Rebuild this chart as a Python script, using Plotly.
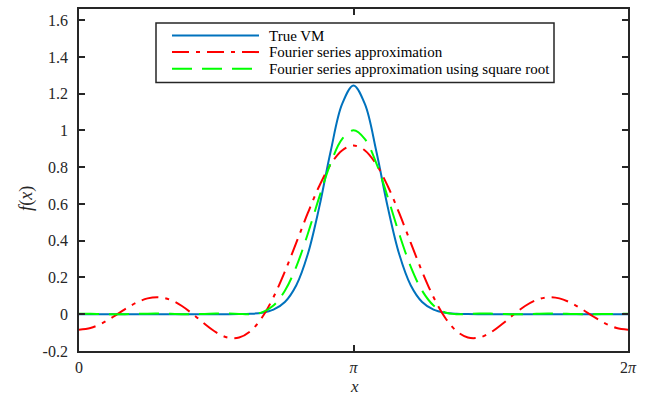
import numpy as np
import plotly.graph_objects as go

# x grid: 0 .. 2*pi in steps of pi/24
x_vals = np.linspace(0, 2 * np.pi, 49)

true_vm = [0.0, 0.0, 0.0, 0.0, 0.0, 0.0, 0.0, 0.0, 0.0, 0.0, 0.0, 0.00002,
           0.00006, 0.00021, 0.00075, 0.0026, 0.0084, 0.0249, 0.0665, 0.1576,
           0.3261, 0.5816, 0.8855, 1.1429, 1.2450,
           1.1429, 0.8855, 0.5816, 0.3261, 0.1576, 0.0665, 0.0249, 0.0084,
           0.0026, 0.00075, 0.00021, 0.00006, 0.00002, 0.0, 0.0, 0.0, 0.0,
           0.0, 0.0, 0.0, 0.0, 0.0, 0.0, 0.0]

fourier = [-0.0837, -0.0747, -0.0497, -0.0135, 0.0266, 0.0624, 0.0862, 0.0922,
           0.0780, 0.0449, -0.0018, -0.0533, -0.0988, -0.1267, -0.1266, -0.0913,
           -0.0176, 0.0926, 0.2321, 0.3894, 0.5496, 0.6966, 0.8147, 0.8913, 0.9178,
           0.8913, 0.8147, 0.6966, 0.5496, 0.3894, 0.2321, 0.0926, -0.0176,
           -0.0913, -0.1266, -0.1267, -0.0988, -0.0533, -0.0018, 0.0449, 0.0780,
           0.0922, 0.0862, 0.0624, 0.0266, -0.0135, -0.0497, -0.0747, -0.0837]

fourier_sqrt = [0.0029, 0.0023, 0.0010, 0.0000, 0.0004, 0.0018, 0.0032, 0.0034,
                0.0021, 0.0005, 0.0001, 0.0015, 0.0035, 0.0038, 0.0015, 0.0002,
                0.0104, 0.0477, 0.1280, 0.2596, 0.4366, 0.6358, 0.8213, 0.9532, 1.0011,
                0.9532, 0.8213, 0.6358, 0.4366, 0.2596, 0.1280, 0.0477, 0.0104,
                0.0002, 0.0015, 0.0038, 0.0035, 0.0015, 0.0001, 0.0005, 0.0021,
                0.0034, 0.0032, 0.0018, 0.0004, 0.0000, 0.0010, 0.0023, 0.0029]

series_names = ["True VM", "Fourier series approximation",
                "Fourier series approximation using square root"]
series_colors = ["#0072BD", "#FF0000", "#00FF00"]
series_dash = ["solid", "17px,7px,4px,7px", "20px,10px"]

x_tickvals = [0, np.pi, 2 * np.pi]
x_ticktext = ["0", "<i>π</i>", "2<i>π</i>"]
y_tickvals = [-0.2, 0, 0.2, 0.4, 0.6, 0.8, 1, 1.2, 1.4, 1.6]
y_ticktext = ["-0.2", "0", "0.2", "0.4", "0.6", "0.8", "1", "1.2", "1.4", "1.6"]

W, H = 650, 397
L, R, T, B = 79, 22, 7, 46
PW, PH = W - L - R, H - T - B

def fx(px):
    return (px - L) / PW

def fy(py):
    return (H - B - py) / PH

FONT = "Liberation Serif"
AX = "#262626"

fig = go.Figure()
for ys, name, col, dash in zip([true_vm, fourier, fourier_sqrt], series_names,
                               series_colors, series_dash):
    fig.add_trace(go.Scatter(x=x_vals, y=ys, mode="lines", name=name,
                             line=dict(color=col, width=2, dash=dash, shape="spline"),
                             showlegend=False))

# custom legend box
shapes = [dict(type="rect", xref="paper", yref="paper",
               x0=fx(156), x1=fx(554), y0=fy(81), y1=fy(21),
               line=dict(color=AX, width=1.5), fillcolor="white", layer="above")]
annotations = []
rows = [33.7, 50.3, 67.0]
for name, col, dash, ry in zip(series_names, series_colors, series_dash, rows):
    shapes.append(dict(type="line", xref="paper", yref="paper",
                       x0=fx(172), x1=fx(259), y0=fy(ry), y1=fy(ry),
                       line=dict(color=col, width=2, dash=dash), layer="above"))
    annotations.append(dict(xref="paper", yref="paper", x=fx(267), y=fy(ry),
                            text=name, showarrow=False, xanchor="left",
                            yanchor="middle",
                            font=dict(family=FONT, size=15, color="#000000")))

annotations.append(dict(xref="paper", yref="paper", x=fx(27), y=fy(198),
                        text="<i>f</i>(<i>x</i>)", showarrow=False, textangle=-90,
                        xanchor="center", yanchor="middle",
                        font=dict(family=FONT, size=18, color=AX)))
annotations.append(dict(xref="paper", yref="paper", x=fx(354), y=fy(387),
                        text="<i>x</i>", showarrow=False,
                        xanchor="center", yanchor="middle",
                        font=dict(family=FONT, size=17, color=AX)))

fig.update_layout(
    width=W, height=H,
    margin=dict(l=L, r=R, t=T, b=B),
    paper_bgcolor="white", plot_bgcolor="white",
    shapes=shapes, annotations=annotations,
    font=dict(family=FONT, size=16, color=AX),
)
fig.update_xaxes(range=[0, 2 * np.pi], tickvals=x_tickvals, ticktext=x_ticktext,
                 showgrid=False, zeroline=False, showline=True, linecolor=AX,
                 linewidth=1.8, mirror="allticks", ticks="inside", ticklen=6,
                 tickwidth=1.5, tickcolor=AX, ticklabelstandoff=1,
                 tickfont=dict(family=FONT, size=16, color=AX))
fig.update_yaxes(range=[-0.2, 1.661], tickvals=y_tickvals, ticktext=y_ticktext,
                 showgrid=False, zeroline=False, showline=True, linecolor=AX,
                 linewidth=1.8, mirror="allticks", ticks="inside", ticklen=6,
                 tickwidth=1.5, tickcolor=AX, ticklabelstandoff=6,
                 tickfont=dict(family=FONT, size=16, color=AX))

fig.write_html("out.html")
